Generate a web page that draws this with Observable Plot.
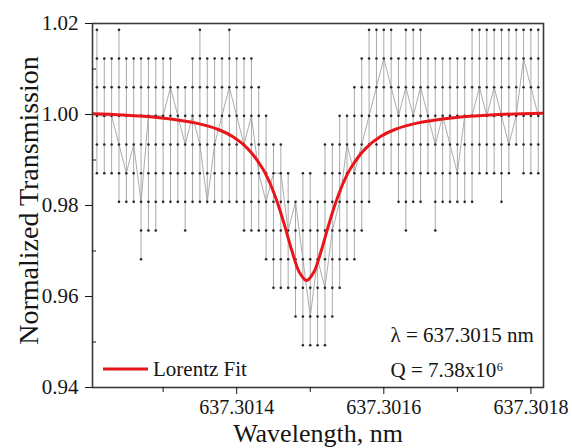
<!DOCTYPE html>
<html><head><meta charset="utf-8">
<script src="https://cdn.jsdelivr.net/npm/d3@7"></script>
<script src="https://cdn.jsdelivr.net/npm/@observablehq/plot@0.6"></script>
<style>
html,body{margin:0;padding:0;background:#fff;}
</style>
</head><body><div id="chart"></div>
<script>
// wavelength of each measured column (nm)
const wavelengths = [
  637.30121, 637.30122, 637.30123, 637.30124, 637.30125, 637.30126, 637.30127, 637.30128, 637.30129, 637.30130,
  637.30131, 637.30132, 637.30133, 637.30134, 637.30135, 637.30136, 637.30137, 637.30138, 637.30139, 637.30140,
  637.30141, 637.30142, 637.30143, 637.30144, 637.30145, 637.30146, 637.30147, 637.30148, 637.30149, 637.30150,
  637.30151, 637.30152, 637.30153, 637.30154, 637.30155, 637.30156, 637.30157, 637.30158, 637.30159, 637.30160,
  637.30161, 637.30162, 637.30163, 637.30164, 637.30165, 637.30166, 637.30167, 637.30168, 637.30169, 637.30170,
  637.30171, 637.30172, 637.30173, 637.30174, 637.30175, 637.30176, 637.30177, 637.30178, 637.30179, 637.30180,
  637.30181
];
// quantized transmission levels, level -8 ... +3
const levels = [0.9493, 0.9556, 0.9619, 0.9682, 0.9745, 0.9808, 0.9871, 0.9934, 0.9997, 1.0060, 1.0123, 1.0186];
// highest level reached in each column
const colMax = [
  3, 2, 2, 3, 2, 2, 2, 2, 2, 2,
  2, 1, 1, 2, 3, 2, 2, 2, 3, 2,
  2, 2, 1, 0, -1, -1, -2, -3, -2, -2,
  -3, -1, -1, 0, 0, 1, 2, 3, 3, 3,
  3, 2, 3, 3, 3, 2, 2, 2, 2, 2,
  2, 3, 3, 3, 3, 3, 3, 3, 3, 3,
  3
];
// lowest level reached in each column
const colMin = [
  -2, -2, -2, -3, -3, -3, -5, -4, -4, -3,
  -3, -3, -4, -3, -3, -3, -3, -3, -3, -3,
  -4, -4, -4, -5, -6, -6, -6, -7, -8, -8,
  -8, -8, -7, -6, -5, -5, -4, -3, -2, -2,
  -2, -3, -4, -3, -3, -2, -4, -3, -3, -3,
  -3, -3, -2, -2, -2, -3, -2, -1, -2, -2,
  -2
];
// single scan trace (level per column)
const traceLevel = [
  0, 0, 0, -1, -2, -1, -3, 0, 0, 0,
  1, 0, -1, 0, -1, -3, -1, 0, 1, 0,
  -1, 0, -2, -3, -2, -2, -4, -3, -5, -7,
  -5, -6, -4, -3, -1, -2, -1, 0, 1, 2,
  1, 0, 1, 0, 1, 0, -1, 0, -1, -2,
  0, 0, 1, 0, 1, 0, -1, 0, 2, 1,
  0
];
// Lorentz fit curve
const fitWavelength = [
  637.301195, 637.301245, 637.301295, 637.301345, 637.301375, 637.301395, 637.301415, 637.301435, 637.301445,
  637.301455, 637.301465, 637.301475, 637.301485, 637.301495, 637.301505, 637.301515, 637.301525, 637.301535,
  637.301545, 637.301555, 637.301575, 637.301595, 637.301615, 637.301645, 637.301695, 637.301745, 637.301815
];
const fitTransmission = [
  1.0002, 0.9999, 0.9993, 0.9981, 0.9967, 0.9951, 0.9925, 0.9882, 0.9850,
  0.9808, 0.9757, 0.9701, 0.9654, 0.9635, 0.9654, 0.9701, 0.9757, 0.9808,
  0.9850, 0.9882, 0.9925, 0.9951, 0.9967, 0.9981, 0.9993, 0.9999, 1.0003
];
const xTicks = [637.3014, 637.3016, 637.3018];
const xMinorTicks = [637.3013, 637.3015, 637.3017];
const yTicks = [0.94, 0.96, 0.98, 1.00, 1.02];
const yMinorTicks = [0.95, 0.97, 0.99, 1.01];
const xLabel = "Wavelength, nm";
const yLabel = "Normalized Transmission";
const annotationLines = ["λ = 637.3015 nm", "Q = 7.38x10⁶"];
const legendLabel = "Lorentz Fit";

const lv = k => levels[k + 8];
const columns = wavelengths.map((w, i) => ({w, lo: lv(colMin[i]), hi: lv(colMax[i]), t: lv(traceLevel[i])}));
const dots = [];
wavelengths.forEach((w, i) => { for (let k = colMin[i]; k <= colMax[i]; k++) dots.push({w, y: lv(k)}); });
const fit = fitWavelength.map((w, i) => ({w, y: fitTransmission[i]}));

const serif = '"Liberation Serif", "Times New Roman", serif';
const chart = Plot.plot({
  width: 572, height: 448,
  marginLeft: 92, marginRight: 29, marginTop: 23, marginBottom: 61,
  style: {fontFamily: serif, fontSize: "21px", color: "#151515", background: "#fff"},
  x: {domain: [637.301204, 637.3018171]},
  y: {domain: [0.94, 1.02]},
  marks: [
    Plot.ruleX(columns, {x: "w", y1: "lo", y2: "hi", stroke: "#a9a9a9", strokeWidth: 1}),
    Plot.line(columns, {x: "w", y: "t", stroke: "#a3a3a3", strokeWidth: 0.9}),
    Plot.dot(dots, {x: "w", y: "y", r: 1.3, fill: "#262626", stroke: null}),
    Plot.line(fit, {x: "w", y: "y", stroke: "#e8161b", strokeWidth: 3, curve: "catmull-rom", clip: true}),
    Plot.frame({stroke: "#3a3a3a", strokeWidth: 1.6}),
    Plot.axisX({ticks: xTicks, tickFormat: d => d.toFixed(4), tickSize: 7, tickPadding: 5, label: null, fontSize: 20, fontFamily: serif, fontVariant: "normal"}),
    Plot.axisX({ticks: xMinorTicks, tickFormat: () => "", tickSize: 5, label: null}),
    Plot.axisY({ticks: yTicks, tickFormat: d => d.toFixed(2), tickSize: 7, tickPadding: 7, label: null, fontSize: 21, fontFamily: serif, fontVariant: "normal"}),
    Plot.axisY({ticks: yMinorTicks, tickFormat: () => "", tickSize: -4, label: null}),
    Plot.text([xLabel], {text: d => d, frameAnchor: "bottom", dy: 54, lineAnchor: "bottom", fontSize: 26, fontFamily: serif}),
    Plot.text([yLabel], {text: d => d, frameAnchor: "left", dx: -55, dy: -5, rotate: -90, textAnchor: "middle", lineAnchor: "bottom", fontSize: 28, fontFamily: serif}),
    Plot.text([annotationLines[0]], {text: d => d, frameAnchor: "bottom-left", dx: 298, dy: -46, textAnchor: "start", lineAnchor: "bottom", fontSize: 21, fontFamily: serif}),
    Plot.text([annotationLines[1]], {text: d => d, frameAnchor: "bottom-left", dx: 298, dy: -11, textAnchor: "start", lineAnchor: "bottom", fontSize: 21, fontFamily: serif})
  ]
});
const svg = d3.select(chart);
svg.append("line").attr("x1", 103).attr("x2", 148).attr("y1", 369).attr("y2", 369)
  .attr("stroke", "#e8161b").attr("stroke-width", 3);
svg.append("text").attr("x", 153).attr("y", 376).attr("font-size", 21).attr("text-anchor", "start")
  .attr("font-family", serif).attr("fill", "#151515").text(legendLabel);
document.getElementById("chart").appendChild(chart);
</script>
</body></html>
